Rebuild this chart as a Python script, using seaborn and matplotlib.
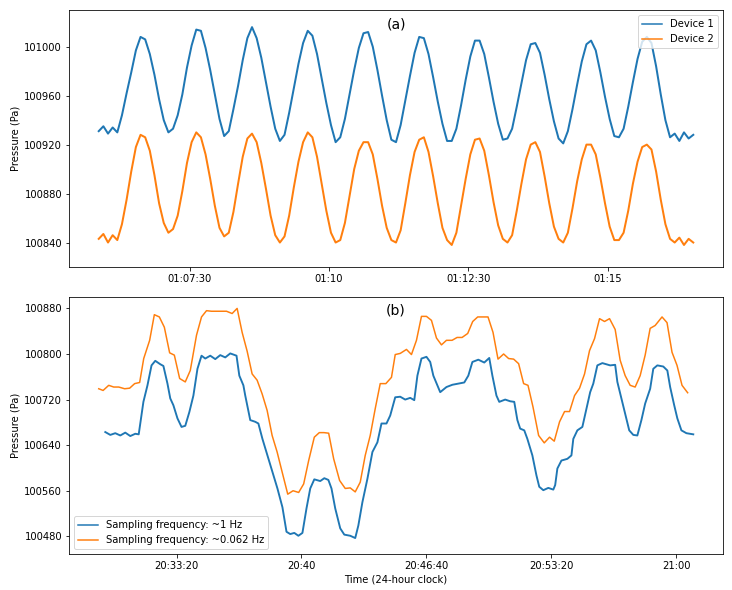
import matplotlib
matplotlib.use('Agg')
import matplotlib.pyplot as plt
import matplotlib.dates as mdates
import matplotlib.ticker as ticker
import seaborn as sns
import pandas as pd

day = '2019-01-01'

# panel (a): two devices, one value every 5 s
top_start = day + ' 01:05:52'
dev1 = [100931, 100935, 100929, 100934, 100930,
        100944, 100962, 100979, 100997, 101008, 101006, 100994, 100977, 100957, 100940, 100930, 100933,
        100944, 100961, 100983, 101001, 101014, 101013, 100999, 100981, 100961, 100941, 100927, 100931,
        100949, 100968, 100989, 101007, 101016, 101007, 100991, 100971, 100951, 100933, 100923, 100928,
        100946, 100966, 100986, 101003, 101013, 101009, 100994, 100974, 100954, 100936, 100922, 100926,
        100941, 100961, 100981, 100999, 101011, 101012, 101000, 100981, 100960, 100940, 100924, 100922,
        100936, 100956, 100976, 100995, 101008, 101007, 100994, 100975, 100955, 100937, 100923, 100923,
        100933, 100952, 100973, 100992, 101005, 101005, 100994, 100975, 100955, 100937, 100924, 100925,
        100933, 100951, 100970, 100989, 101002, 101003, 100995, 100977, 100957, 100939, 100925, 100921,
        100931, 100949, 100969, 100988, 101002, 101005, 100997, 100979, 100959, 100941, 100927, 100926,
        100933, 100951, 100971, 100990, 101004, 101008, 101003, 100984, 100961, 100940, 100926, 100929,
        100923, 100930, 100925, 100928]
dev2 = [100843, 100847, 100840, 100846, 100842,
        100855, 100875, 100898, 100918, 100928, 100926, 100915, 100895, 100872, 100856, 100848, 100851,
        100862, 100882, 100905, 100922, 100930, 100926, 100912, 100892, 100870, 100852, 100845, 100848,
        100865, 100888, 100910, 100925, 100929, 100922, 100905, 100884, 100862, 100846, 100840, 100845,
        100862, 100885, 100906, 100922, 100930, 100926, 100910, 100888, 100866, 100848, 100840, 100842,
        100856, 100878, 100900, 100915, 100922, 100922, 100912, 100892, 100870, 100852, 100842, 100840,
        100850, 100872, 100895, 100914, 100924, 100926, 100914, 100894, 100872, 100852, 100842, 100838,
        100848, 100870, 100892, 100912, 100924, 100925, 100915, 100895, 100873, 100854, 100843, 100840,
        100846, 100866, 100888, 100908, 100920, 100922, 100914, 100894, 100872, 100853, 100843, 100840,
        100848, 100868, 100890, 100908, 100920, 100920, 100912, 100893, 100872, 100853, 100842, 100842,
        100848, 100866, 100888, 100906, 100918, 100920, 100916, 100898, 100875, 100855, 100843, 100840,
        100844, 100838, 100843, 100840]
top_ticks = ['01:07:30', '01:10:00', '01:12:30', '01:15:00']

# panel (b): seconds after 20:29:10
bot_start = day + ' 20:29:10'
fast_sec = [22, 38, 54, 70, 86, 102, 118, 129, 144, 157, 170, 182, 198, 208, 221, 230, 240, 253,
            266, 278, 291, 304, 317, 330, 342, 358, 374, 390, 406, 422, 442, 451, 464, 470, 486,
            502, 512, 525, 541, 557, 573, 589, 602, 614, 627, 640, 653, 666, 678, 691, 710, 723,
            736, 746, 758, 774, 787, 806, 822, 832, 845, 861, 877, 893, 906, 922, 934, 950, 966,
            982, 998, 1011, 1021, 1034, 1050, 1062, 1072, 1085, 1094, 1114, 1133, 1152, 1171,
            1184, 1197, 1216, 1235, 1251, 1261, 1274, 1283, 1302, 1318, 1331, 1341, 1350, 1363,
            1373, 1389, 1402, 1411, 1424, 1440, 1456, 1462, 1469, 1482, 1501, 1514, 1520, 1533,
            1549, 1562, 1574, 1584, 1597, 1613, 1638, 1654, 1661, 1674, 1686, 1699, 1712, 1725,
            1738, 1750, 1766, 1776, 1789, 1808, 1821, 1830, 1843, 1853, 1866, 1882, 1904]
fast_pa = [100663, 100658, 100661, 100657, 100662, 100656, 100660, 100659, 100716, 100745, 100780,
           100788, 100782, 100779, 100748, 100722, 100710, 100687, 100672, 100674, 100698, 100727,
           100774, 100797, 100792, 100797, 100791, 100798, 100794, 100801, 100797, 100762, 100745,
           100727, 100684, 100681, 100678, 100651, 100622, 100593, 100564, 100531, 100488, 100484,
           100486, 100481, 100486, 100529, 100564, 100580, 100577, 100582, 100579, 100564, 100529,
           100494, 100483, 100481, 100477, 100499, 100540, 100581, 100628, 100645, 100678, 100678,
           100692, 100724, 100725, 100720, 100723, 100719, 100762, 100792, 100795, 100786, 100762,
           100745, 100733, 100742, 100746, 100748, 100750, 100762, 100786, 100790, 100785, 100793,
           100762, 100727, 100716, 100720, 100717, 100716, 100684, 100669, 100666, 100651, 100622,
           100587, 100567, 100561, 100565, 100562, 100570, 100599, 100613, 100616, 100622, 100651,
           100666, 100672, 100704, 100733, 100748, 100780, 100784, 100780, 100781, 100751, 100722,
           100695, 100666, 100658, 100657, 100684, 100713, 100739, 100774, 100780, 100778, 100771,
           100742, 100710, 100687, 100666, 100661, 100659]
slow_sec = [1, 15, 33, 49, 65, 84, 100, 116, 132, 145, 164, 179, 195, 211, 228, 243, 260, 278, 294,
            314, 330, 346, 362, 385, 410, 428, 444, 460, 476, 492, 508, 524, 540, 556, 572, 588,
            606, 623, 641, 657, 673, 691, 707, 722, 737, 753, 772, 790, 806, 822, 838, 854, 870,
            886, 902, 920, 938, 950, 966, 986, 1002, 1018, 1034, 1050, 1066, 1082, 1098, 1114,
            1132, 1148, 1164, 1182, 1198, 1214, 1230, 1247, 1263, 1279, 1297, 1313, 1329, 1345,
            1361, 1375, 1391, 1409, 1427, 1444, 1459, 1476, 1492, 1508, 1524, 1540, 1556, 1572,
            1588, 1604, 1620, 1636, 1654, 1670, 1686, 1702, 1718, 1734, 1750, 1766, 1782, 1804,
            1820, 1836, 1852, 1868, 1886]
slow_pa = [100739, 100736, 100745, 100742, 100742, 100739, 100740, 100748, 100750, 100792, 100824,
           100869, 100865, 100847, 100802, 100798, 100757, 100751, 100771, 100833, 100865, 100876,
           100875, 100875, 100875, 100871, 100880, 100838, 100805, 100765, 100754, 100730, 100701,
           100657, 100628, 100593, 100554, 100560, 100557, 100572, 100613, 100654, 100662, 100662,
           100661, 100616, 100578, 100564, 100565, 100558, 100575, 100622, 100657, 100704, 100748,
           100748, 100759, 100799, 100801, 100808, 100799, 100824, 100866, 100866, 100859, 100828,
           100816, 100824, 100824, 100829, 100829, 100836, 100857, 100865, 100865, 100865, 100838,
           100791, 100800, 100792, 100791, 100783, 100748, 100745, 100707, 100657, 100644, 100654,
           100647, 100681, 100699, 100699, 100727, 100740, 100765, 100806, 100827, 100862, 100857,
           100862, 100843, 100789, 100762, 100745, 100742, 100762, 100798, 100845, 100850, 100865,
           100855, 100803, 100780, 100745, 100732]
bot_ticks = ['20:33:20', '20:40:00', '20:46:40', '20:53:20', '21:00:00']

blue = '#1f77b4'
orange = '#ff7f0e'


def hms(x, pos):
    s = mdates.num2date(x).strftime('%H:%M:%S')
    if s.endswith(':00'):
        s = s[:-3]
    return s


def set_time_ticks(ax, ticks):
    locs = mdates.date2num(pd.to_datetime([day + ' ' + t for t in ticks]).to_pydatetime())
    ax.xaxis.set_major_locator(ticker.FixedLocator(locs))
    ax.xaxis.set_major_formatter(ticker.FuncFormatter(hms))


fig = plt.figure(figsize=(732 / 72, 590 / 72), dpi=72)
ax1 = fig.add_axes([69 / 732, 1 - 267 / 590, 654 / 732, 257 / 590])
ax2 = fig.add_axes([69 / 732, 1 - 554 / 590, 654 / 732, 257 / 590])

top = pd.DataFrame({'time': pd.date_range(top_start, periods=len(dev1), freq='5s'),
                    'd1': dev1, 'd2': dev2})
sns.lineplot(data=top, x='time', y='d1', ax=ax1, color=blue, label='Device 1',
             estimator=None, sort=False, linewidth=2.0)
sns.lineplot(data=top, x='time', y='d2', ax=ax1, color=orange, label='Device 2',
             estimator=None, sort=False, linewidth=2.0)

fast = pd.DataFrame({'time': pd.Timestamp(bot_start) + pd.to_timedelta(fast_sec, unit='s'),
                     'p': fast_pa})
slow = pd.DataFrame({'time': pd.Timestamp(bot_start) + pd.to_timedelta(slow_sec, unit='s'),
                     'p': slow_pa})
sns.lineplot(data=fast, x='time', y='p', ax=ax2, color=blue,
             label='Sampling frequency: ~1 Hz', estimator=None, sort=False, linewidth=1.9)
sns.lineplot(data=slow, x='time', y='p', ax=ax2, color=orange,
             label='Sampling frequency: ~0.062 Hz', estimator=None, sort=False, linewidth=1.5)

ax1.set_ylim(100820, 101030)
ax1.yaxis.set_major_locator(ticker.MultipleLocator(40))
ax2.set_ylim(100449, 100900)
ax2.yaxis.set_major_locator(ticker.MultipleLocator(80))

for ax in (ax1, ax2):
    ax.ticklabel_format(axis='y', useOffset=False, style='plain')
    ax.set_ylabel('Pressure (Pa)')
    ax.set_xlabel('')

set_time_ticks(ax1, top_ticks)
set_time_ticks(ax2, bot_ticks)
ax2.set_xlabel('Time (24-hour clock)')

leg1 = ax1.legend(loc='upper right')
leg2 = ax2.legend(loc='lower left')
for leg in (leg1, leg2):
    for line in leg.get_lines():
        line.set_linewidth(1.5)
ax1.text(0.5, 0.97, '(a)', transform=ax1.transAxes, ha='center', va='top', fontsize=14)
ax2.text(0.5, 0.975, '(b)', transform=ax2.transAxes, ha='center', va='top', fontsize=14)

fig.savefig('out.png', dpi=72)
